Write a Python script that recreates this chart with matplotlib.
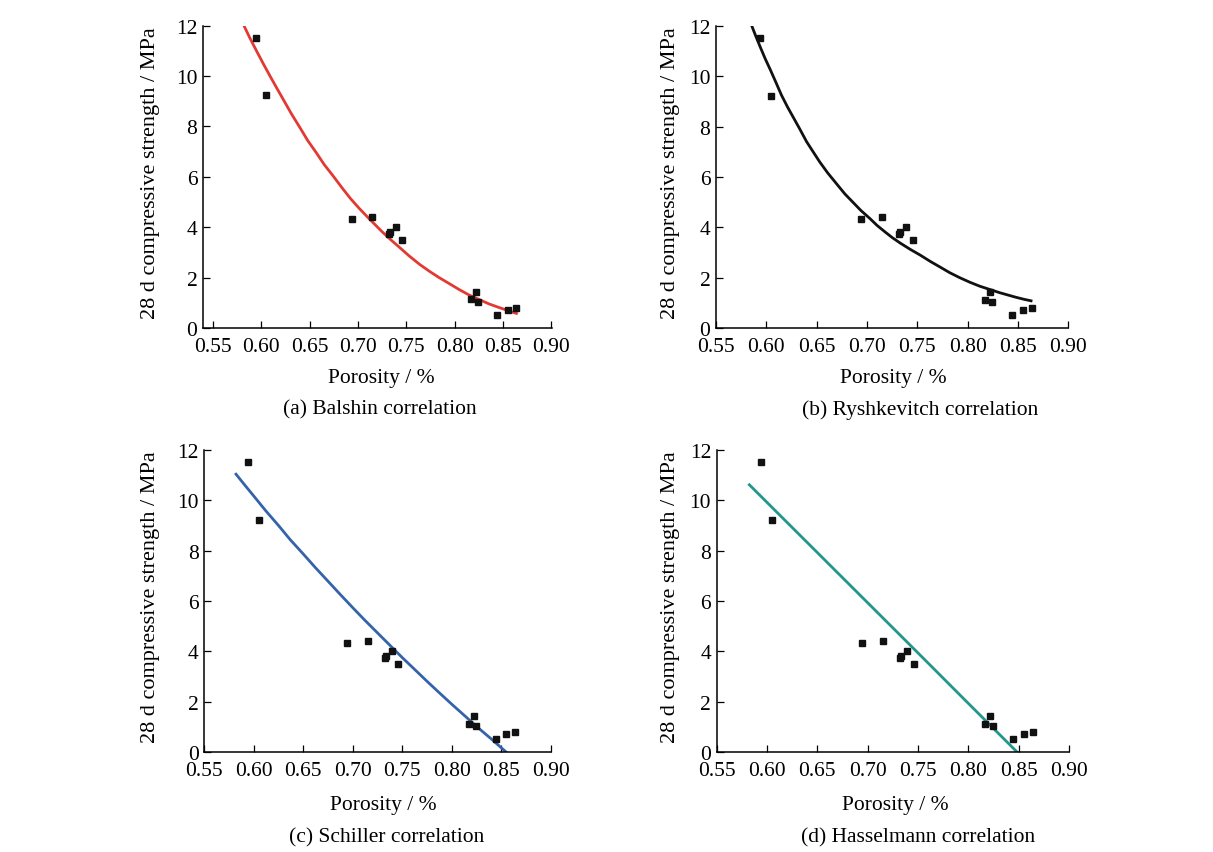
import matplotlib
matplotlib.use('Agg')
import matplotlib.pyplot as plt

plt.rcParams['font.family'] = ['Liberation Serif', 'DejaVu Serif']
plt.rcParams['font.size'] = 15

# measured points (same in every panel)
porosity = [0.594, 0.605, 0.694, 0.715, 0.732, 0.733, 0.739, 0.746,
            0.817, 0.822, 0.824, 0.844, 0.855, 0.864]
strength = [11.5, 9.23, 4.33, 4.42, 3.72, 3.83, 4.01, 3.50,
            1.14, 1.44, 1.04, 0.52, 0.72, 0.81]

# fitted curves
balshin_x = [0.582, 0.588, 0.595, 0.602, 0.609, 0.616, 0.623, 0.631, 0.640, 0.648,
             0.657, 0.665, 0.674, 0.683, 0.692, 0.701, 0.710, 0.718, 0.725, 0.734,
             0.743, 0.753, 0.764, 0.774, 0.784, 0.795, 0.805, 0.815, 0.826, 0.836,
             0.847, 0.856, 0.864]
balshin_y = [12.0, 11.52, 11.0, 10.49, 10.0, 9.52, 9.05, 8.51, 7.95, 7.44,
             6.95, 6.49, 6.05, 5.59, 5.15, 4.76, 4.40, 4.09, 3.82, 3.50,
             3.20, 2.86, 2.52, 2.25, 2.00, 1.75, 1.52, 1.31, 1.12, 0.95,
             0.80, 0.68, 0.58]

rysh_x = [0.585, 0.589, 0.594, 0.599, 0.604, 0.609, 0.615, 0.621, 0.627, 0.633,
          0.640, 0.646, 0.653, 0.661, 0.670, 0.678, 0.686, 0.694, 0.703, 0.710,
          0.718, 0.725, 0.733, 0.743, 0.753, 0.763, 0.773, 0.782, 0.792, 0.802,
          0.812, 0.822, 0.832, 0.840, 0.848, 0.856, 0.863]
rysh_y = [12.05, 11.64, 11.15, 10.68, 10.25, 9.80, 9.25, 8.78, 8.35, 7.92,
          7.40, 7.03, 6.60, 6.16, 5.72, 5.33, 5.00, 4.67, 4.35, 4.08,
          3.82, 3.60, 3.38, 3.13, 2.90, 2.65, 2.42, 2.21, 2.01, 1.83,
          1.67, 1.54, 1.41, 1.32, 1.23, 1.15, 1.09]

schiller_x = [0.582, 0.591, 0.600, 0.612, 0.625, 0.637, 0.650, 0.662, 0.675, 0.687,
              0.700, 0.712, 0.725, 0.737, 0.750, 0.762, 0.775, 0.787, 0.800, 0.812,
              0.825, 0.840, 0.855]
schiller_y = [11.03, 10.59, 10.16, 9.58, 8.99, 8.42, 7.86, 7.33, 6.78, 6.27,
              5.73, 5.24, 4.73, 4.26, 3.75, 3.30, 2.81, 2.37, 1.90, 1.48,
              1.02, 0.52, 0.0]

hassel_x = [0.5824, 0.650, 0.700, 0.750, 0.800, 0.8487]
hassel_y = [10.61, 7.92, 5.93, 3.94, 1.94, 0.0]

xticks = [0.55, 0.60, 0.65, 0.70, 0.75, 0.80, 0.85, 0.90]
yticks = [0, 2, 4, 6, 8, 10, 12]

W, H = 1213, 853
fig = plt.figure(figsize=(W / 100, H / 100), dpi=100)


def px_axes(x0, y0, x1, y1):
    return fig.add_axes([x0 / W, 1 - y1 / H, (x1 - x0) / W, (y1 - y0) / H])


def ftext(x, y, s, **kw):
    fig.text(x / W, 1 - y / H, s, ha='center', va='center', **kw)


panels = [
    # box, xlim, curve, colour, caption, label positions
    ((203, 26.7, 551.7, 329), (0.5396, 0.9005), balshin_x, balshin_y, '#e23a33',
     '(a) Balshin correlation', (151, 173), (381, 378), (380, 410)),
    ((716, 26.7, 1068.3, 329.3), (0.55, 0.9), rysh_x, rysh_y, '#111111',
     '(b) Ryshkevitch correlation', (671, 173), (893, 378), (920, 410)),
    ((204.3, 450.7, 551, 753.3), (0.55, 0.9), schiller_x, schiller_y, '#3563aa',
     '(c) Schiller correlation', (151, 597), (383, 806), (387, 838)),
    ((716.7, 450.7, 1069, 753.3), (0.55, 0.9), hassel_x, hassel_y, '#1f978c',
     '(d) Hasselmann correlation', (671, 597), (895, 806), (918, 838)),
]

for box, xl, cx, cy, col, cap, ylp, xlp, capp in panels:
    ax = px_axes(*box)
    ax.plot(cx, cy, color=col, lw=2, zorder=2)
    ax.plot(porosity, strength, 's', color='#111111', ms=5, zorder=3)
    ax.set_xlim(*xl)
    ax.set_ylim(0, 12)
    ax.set_xticks(xticks)
    ax.set_xticklabels(['%.2f' % t for t in xticks])
    ax.set_yticks(yticks)
    ax.spines['top'].set_visible(False)
    ax.spines['right'].set_visible(False)
    ax.spines['left'].set_linewidth(1.1)
    ax.spines['bottom'].set_linewidth(1.1)
    ax.tick_params(direction='in', length=5, width=0.9, labelsize=15.5)
    ax.tick_params(axis='x', pad=6.5)
    ax.tick_params(axis='y', pad=4)
    ax.patch.set_alpha(0)
    ftext(*ylp, '28 d compressive strength / MPa', rotation=90, fontsize=16)
    ftext(*xlp, 'Porosity / %', fontsize=15.5)
    ftext(*capp, cap, fontsize=15.5)

fig.savefig('out.png', dpi=100, facecolor='white')
